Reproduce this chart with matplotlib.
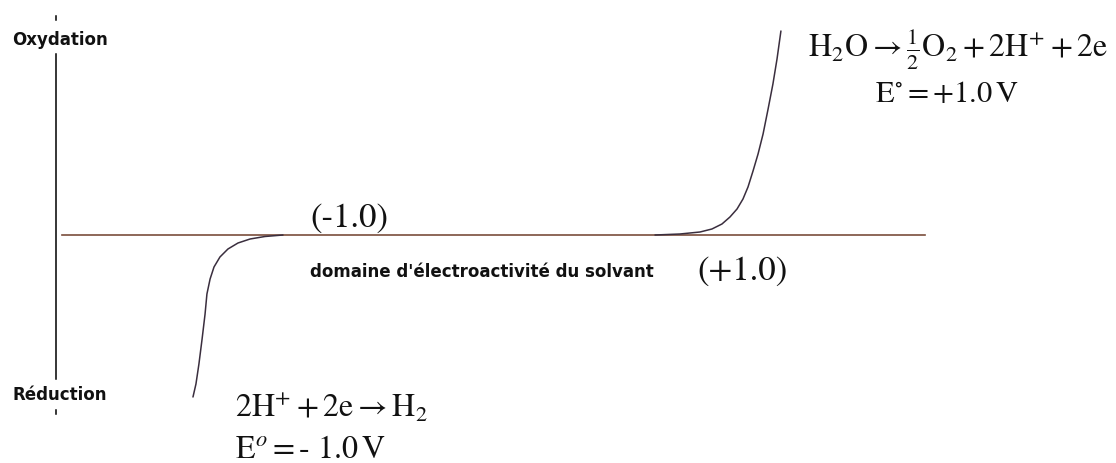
import matplotlib
matplotlib.use("Agg")
import matplotlib.pyplot as plt

plt.rcParams["mathtext.fontset"] = "stix"

# Potential limits of the solvent window (V)
e_red = -1.0
e_ox = 1.0

# Oxidation branch (water -> O2): potential (V), current (arb. units)
ox_potential = [1.0, 1.134, 1.242, 1.306, 1.360, 1.403, 1.441, 1.473, 1.500,
                1.527, 1.554, 1.581, 1.608, 1.634, 1.656, 1.677]
ox_current = [0.0, 0.01, 0.03, 0.06, 0.11, 0.18, 0.26, 0.36, 0.48,
              0.64, 0.81, 1.01, 1.26, 1.51, 1.76, 2.04]

# Reduction branch (H+ -> H2)
red_potential = [-1.0, -1.097, -1.177, -1.242, -1.296, -1.339, -1.371, -1.392,
                 -1.409, -1.419, -1.435, -1.452, -1.468, -1.484]
red_current = [0.0, -0.015, -0.04, -0.08, -0.14, -0.22, -0.32, -0.44,
               -0.59, -0.79, -1.04, -1.29, -1.49, -1.62]

W, H = 1116, 464
fig = plt.figure(figsize=(W / 100, H / 100), dpi=100)
ax = fig.add_axes([0, 0, 1, 1])

# 1 V spans 186 px, 1 current unit spans 100 px; origin at (469, 236)
X0, Y0, SX, SY = 469.0, 236.0, 186.0, 100.0
ax.set_xlim(-X0 / SX, (W - X0) / SX)
ax.set_ylim(-(H - Y0) / SY, Y0 / SY)
ax.axis("off")


def fx(p):
    return (p - X0) / SX


def fy(p):
    return (Y0 - p) / SY


# Potential axis
ax.plot([fx(62), fx(925)], [0, 0], color="#7a4e3c", lw=1.2)
# Current axis with its end marks
ax.plot([fx(56), fx(56)], [fy(55), fy(380)], color="black", lw=1.1)
ax.plot([fx(56), fx(56)], [fy(17), fy(21)], color="black", lw=1.1)
ax.plot([fx(56), fx(56)], [fy(411), fy(415)], color="black", lw=1.1)

# Current-potential curves
curve_col = "#3a2e3e"
for xs, ys in ((ox_potential, ox_current), (red_potential, red_current)):
    ax.plot(xs, ys, color=curve_col, lw=1.1,
            solid_joinstyle="round", solid_capstyle="round")

sans = dict(family="DejaVu Sans", fontweight="bold", fontsize=12, color="#111111")
ax.text(fx(12), fy(40), "Oxydation", ha="left", va="center", **sans)
ax.text(fx(12), fy(395), "Réduction", ha="left", va="center", **sans)
ax.text(fx(310), fy(272), "domaine d'électroactivité du solvant", ha="left", va="center", **sans)

serif = dict(family="STIXGeneral", color="#111111")
ax.text(fx(310), fy(219), f"({e_red:.1f})", ha="left", va="center", fontsize=25, **serif)
ax.text(fx(697), fy(272), f"(+{e_ox:.1f})", ha="left", va="center", fontsize=25, **serif)

ax.text(fx(808), fy(49), r"$\mathrm{H_2O \rightarrow \frac{1}{2}O_2 + 2H^{+} + 2e}$",
        ha="left", va="center", fontsize=23, **serif)
ax.text(fx(875), fy(95), r"$\mathrm{E^{\circ} = +1.0\,V}$",
        ha="left", va="center", fontsize=22, **serif)

ax.text(fx(235), fy(408), r"$\mathrm{2H^{+} + 2e \rightarrow H_2}$",
        ha="left", va="center", fontsize=23, **serif)
ax.text(fx(235), fy(450), r"$\mathrm{E}^{o}\mathrm{ = \text{-} \ 1.0\,V}$",
        ha="left", va="center", fontsize=23, **serif)

fig.savefig("out.png", dpi=100, facecolor="white")
